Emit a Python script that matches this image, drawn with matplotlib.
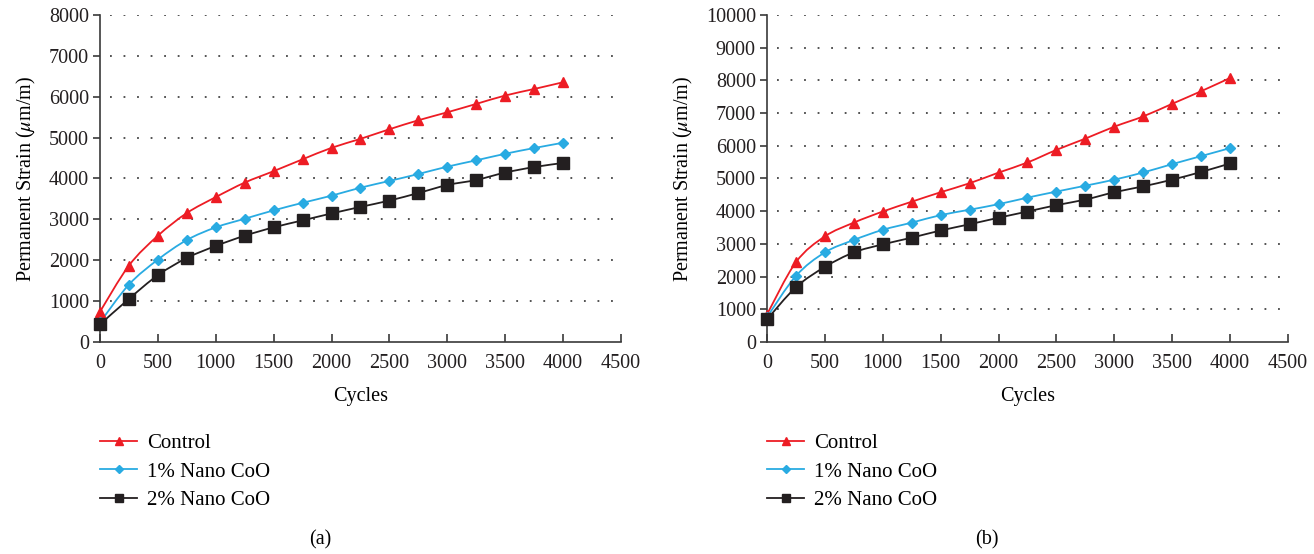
import matplotlib.pyplot as plt
from matplotlib.path import Path
from matplotlib.patches import PathPatch
from matplotlib.lines import Line2D

plt.rcParams['font.family'] = ['Liberation Serif', 'DejaVu Serif']
plt.rcParams['mathtext.fontset'] = 'stix'

ciclos = [0, 250, 500, 750, 1000, 1250, 1500, 1750, 2000, 2250, 2500,
          2750, 3000, 3250, 3500, 3750, 4000]

# painel (a)
controle_a = [740, 1870, 2600, 3155, 3545, 3900, 4180, 4470, 4750, 4970,
              5205, 5425, 5620, 5825, 6030, 6190, 6355]
nano1_a = [480, 1405, 2015, 2495, 2805, 3015, 3220, 3405, 3580, 3775,
           3940, 4110, 4290, 4445, 4605, 4745, 4875]
nano2_a = [430, 1055, 1635, 2055, 2350, 2600, 2805, 2975, 3145, 3305,
           3460, 3645, 3840, 3965, 4145, 4280, 4380]

# painel (b)
controle_b = [840, 2440, 3230, 3650, 3990, 4290, 4580, 4855, 5180, 5490,
              5875, 6220, 6585, 6900, 7285, 7670, 8075]
nano1_b = [760, 2020, 2740, 3120, 3430, 3650, 3880, 4045, 4215, 4415,
           4600, 4780, 4965, 5185, 5440, 5685, 5930]
nano2_b = [690, 1675, 2295, 2740, 2985, 3190, 3410, 3600, 3800, 3990,
           4185, 4355, 4580, 4760, 4965, 5200, 5460]

rotulos = ["Control", "1% Nano CoO", "2% Nano CoO"]
cores = ["#ED1C24", "#29ABE2", "#231F20"]
marcadores = ["^", "D", "s"]
tamanhos = [7.5, 5.5, 8]


def curva_suave(ax, xs, ys, cor):
    # curva tipo Excel: bezier cubica entre os pontos
    verts = [(xs[0], ys[0])]
    codes = [Path.MOVETO]
    n = len(xs)
    for i in range(n - 1):
        x0, y0 = xs[max(i - 1, 0)], ys[max(i - 1, 0)]
        x1, y1 = xs[i], ys[i]
        x2, y2 = xs[i + 1], ys[i + 1]
        x3, y3 = xs[min(i + 2, n - 1)], ys[min(i + 2, n - 1)]
        c1 = (x1 + (x2 - x0) / 6, y1 + (y2 - y0) / 6)
        c2 = (x2 - (x3 - x1) / 6, y2 - (y3 - y1) / 6)
        verts += [c1, c2, (x2, y2)]
        codes += [Path.CURVE4, Path.CURVE4, Path.CURVE4]
    ax.add_patch(PathPatch(Path(verts, codes), facecolor='none',
                           edgecolor=cor, lw=1.3, zorder=2))


def desenhar(ax, series, ymax, letra, x_letra):
    for ys, cor, m, ms in zip(series, cores, marcadores, tamanhos):
        curva_suave(ax, ciclos, ys, cor)
        ax.plot(ciclos, ys, linestyle='none', marker=m, markersize=ms,
                color=cor, zorder=3, clip_on=False)

    ax.set_xlim(0, 4500)
    ax.set_ylim(0, ymax)
    ax.set_xticks(range(0, 4501, 500))
    ax.set_yticks(range(0, ymax + 1, 1000))
    for y in range(1000, ymax + 1, 1000):
        ax.axhline(y, xmin=0.02, color='#444444', lw=1.3,
                   linestyle=(0, (1, 6.5)), zorder=1)

    for lado in ['top', 'right']:
        ax.spines[lado].set_visible(False)
    for lado in ['left', 'bottom']:
        ax.spines[lado].set_color('#3a3a3a')
        ax.spines[lado].set_linewidth(1.2)
    ax.tick_params(axis='both', colors='#3a3a3a', labelcolor='#231F20',
                   labelsize=14.5, width=1.2)
    ax.tick_params(axis='x', direction='in', length=6, pad=9)
    ax.tick_params(axis='y', direction='out', length=5, pad=3)

    ax.set_xlabel("Cycles", fontsize=14.5, labelpad=10)
    ax.set_ylabel(r"Permanent Strain ($\mu$m/m)", fontsize=14.5, labelpad=8)

    proxies = [Line2D([], [], color=c, marker=m, markersize=ms * 0.75, lw=1.3)
               for c, m, ms in zip(cores, marcadores, tamanhos)]
    ax.legend(proxies, rotulos, loc='upper left', frameon=False,
              bbox_to_anchor=(-0.016, -0.255), fontsize=15, handlelength=1.8,
              handletextpad=0.45, labelspacing=0.42, borderaxespad=0)
    fig.text(x_letra, 0.025, letra, fontsize=14.5, ha='center', va='center')


fig = plt.figure(figsize=(13.14, 5.54), dpi=100)
ax_a = fig.add_axes([0.0761, 0.3827, 0.3965, 0.5902])
ax_b = fig.add_axes([0.5837, 0.3827, 0.3965, 0.5902])

desenhar(ax_a, [controle_a, nano1_a, nano2_a], 8000, "(a)", 320 / 1314)
desenhar(ax_b, [controle_b, nano1_b, nano2_b], 10000, "(b)", 987 / 1314)

fig.savefig("out.png", dpi=100)
